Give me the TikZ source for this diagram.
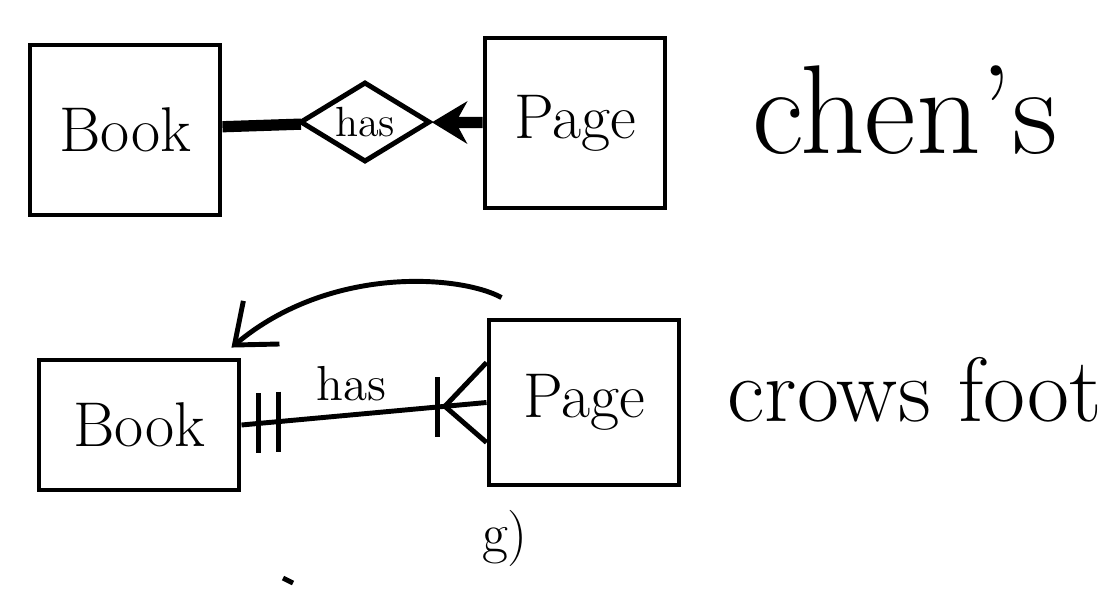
\documentclass[tikz,border=0pt]{standalone}
\usepackage{tikz}
\usetikzlibrary{positioning,calc,shapes.geometric,arrows.meta}

\begin{document}
\begin{tikzpicture}[
		line width=1.4pt,
		ent/.style={draw, minimum width=#1, inner sep=0pt, font=\fontsize{18}{20}\selectfont},
		rel/.style={draw, diamond, aspect=1.6, minimum width=1.3cm, minimum height=0.8cm, inner sep=0pt, font=\fontsize{12}{14}\selectfont},
		fat/.style={line width=3.2pt},
		big/.style={font=\fontsize{36}{40}\selectfont},
		mid/.style={font=\fontsize{26}{30}\selectfont}
	]
	\useasboundingbox (0,0) rectangle (11,6);
	% chen's notation
	\node[ent=1.9cm, minimum height=1.7cm] (tbook) at (1.25,4.70) {Book};
	\node[ent=1.8cm, minimum height=1.7cm] (tpage) at (5.75,4.77) {Page};
	\node[rel] (thas) at (3.65,4.78) {has};
	\draw[fat] (tbook) -- (thas);
	\draw[fat,-{Stealth[length=10pt,width=12pt]}] (tpage) -- (thas);
	\node[big] (chen) at (9.05,4.90) {chen's};

	% crows foot notation
	\node[ent=2.0cm, minimum height=1.3cm] (bbook) at (1.39,1.75) {Book};
	\node[ent=1.9cm, minimum height=1.65cm] (bpage) at (5.84,1.975) {Page};
	\draw (bbook.east) -- (bpage.west) node[pos=0.45,above,font=\fontsize{14}{16}\selectfont] (bhas) {has};
	\coordinate (one1) at ($(bbook.east)!0.07!(bpage.west)$);
	\coordinate (one2) at ($(bbook.east)!0.15!(bpage.west)$);
	\coordinate (bar) at ($(bbook.east)!0.80!(bpage.west)$);
	\coordinate (foot) at ($(bbook.east)!0.83!(bpage.west)$);
	\draw ([yshift=0.3cm]one1) -- ([yshift=-0.3cm]one1);
	\draw ([yshift=0.3cm]one2) -- ([yshift=-0.3cm]one2);
	\draw ([yshift=0.3cm]bar) -- ([yshift=-0.3cm]bar);
	\draw ([yshift=0.4cm]bpage.west) -- (foot) -- ([yshift=-0.4cm]bpage.west);
	\coordinate (from) at ([xshift=0.15cm,yshift=0.2cm]bpage.north west);
	\draw[-{Straight Barb[length=10pt,width=16pt]}] (from) .. controls (4.6,3.25) and (3.3,3.35) .. ([xshift=-0.1cm,yshift=0.1cm]bbook.north east);
	\node[mid] (crow) at (9.15,2.10) {crows foot};

	% stray marks
	\node[font=\fontsize{16}{18}\selectfont] (mark) at (5.05,0.62) {g)};
	\draw (2.83,0.22) -- (2.93,0.17);
\end{tikzpicture}
\end{document}
